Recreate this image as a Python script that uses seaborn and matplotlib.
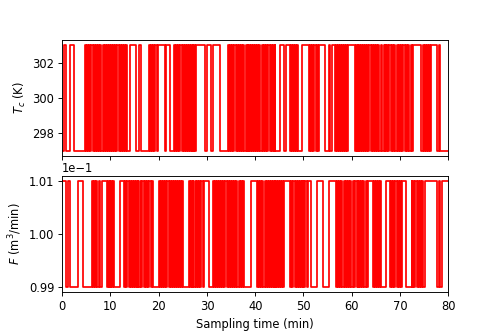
import numpy as np
import matplotlib
matplotlib.use("Agg")
import matplotlib.pyplot as plt
import seaborn as sns

# PRBS levels, one character per 0.2 min sample (1 = high, 0 = low)
tc_bits = ("001100001111000000000000"
           "1010101101" "0101010010" "1010100101" "0101101010" "1010"
           "00" "111111" "00001100000000" "1010101101" "111111001111" "0000"
           "1010101101010101" "01010101" "111111" "11001111" "00" "11111111"
           "00000000" "1010101101" "0101010010" "10101010"
           "1010100101" "0101101010" "10" "0000" "1111001111" "01010101"
           "0000" "11111111" "0101011010" "111111" "0000110011"
           "10101010101010" "111111"
           "1010101010" "1010101101" "0101010010" "01010101"
           "1010100101" "0101101010" "01" "00" "11111111" "00" "10101010"
           "1111110011" "00000000")
f_bits = ("11110011000000001111" "11" "00000000"
          "0101010010" "01111101" "010101" "000000" "1111"
          "0101101010" "1010100101" "1010101101" "000000"
          "1010101101" "1010101010" "101010" "0000"
          "0101010010" "10101101" "1111" "0000"
          "1010101101" "0101101010" "1010100101" "01" "00000000" "111111"
          "0101010010" "1010101010" "10101010" "111111"
          "0101101010" "1010101101" "11000000" "111111" "0000" "0011111111"
          "0101010010" "1010100101" "1010101010" "0101" "1111" "01010101"
          "000000" "1111" "010101101010" "1111" "000000" "101011010101"
          "00" "111111111111" "001100" "111111")

tc_levels = [297, 303]
f_levels = [0.099, 0.101]
t_end = 80


def make_signal(bits, levels):
    vals = np.array([levels[int(b)] for b in bits], dtype=float)
    dt = t_end / len(vals)
    t = np.arange(len(vals)) * dt
    t = np.append(t, t_end)
    vals = np.append(vals, vals[-1])
    return t, vals


t1, tc = make_signal(tc_bits, tc_levels)
t2, fl = make_signal(f_bits, f_levels)

fig, (ax1, ax2) = plt.subplots(2, 1, sharex=True, figsize=(6, 4), dpi=83)
fig.subplots_adjust(top=0.88, bottom=0.12, hspace=0.17)

sns.lineplot(x=t1, y=tc, ax=ax1, color="red", drawstyle="steps-post", lw=1.5)
ax1.set_ylabel(r"$T_c$ (K)")
ax1.set_yticks([298, 300, 302])

sns.lineplot(x=t2, y=fl, ax=ax2, color="red", drawstyle="steps-post", lw=1.5)
ax2.set_ylabel(r"$F$ (m$^3$/min)")
ax2.set_yticks([0.099, 0.100, 0.101])
ax2.ticklabel_format(axis="y", style="sci", scilimits=(0, 0))
ax2.set_xlabel("Sampling time (min)")
ax2.set_xlim(0, 80)
ax2.set_xticks(range(0, 81, 10))

fig.savefig("out.png", dpi=83)
